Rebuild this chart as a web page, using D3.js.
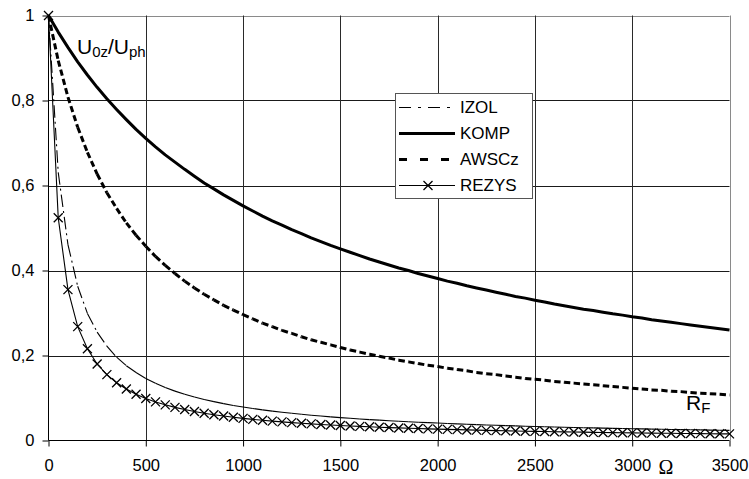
<!DOCTYPE html>
<html><head><meta charset="utf-8">
<script src="https://cdn.jsdelivr.net/npm/d3@7"></script>
<style>
body{margin:0;background:#fff}
svg{display:block;font-family:Arial,"Liberation Sans",sans-serif}
</style>
</head><body>
<svg id="chart" width="749" height="479"></svg>
<script>
// ---- data ----
const resistance = [0,50,100,150,200,250,300,350,400,450,500,550,600,650,700,750,800,850,900,950,
1000,1050,1100,1150,1200,1250,1300,1350,1400,1450,1500,1550,1600,1650,1700,1750,1800,1850,1900,1950,
2000,2050,2100,2150,2200,2250,2300,2350,2400,2450,2500,2550,2600,2650,2700,2750,2800,2850,2900,2950,
3000,3050,3100,3150,3200,3250,3300,3350,3400,3450,3500];

const izol = [1,0.631,0.461,0.363,0.299,0.255,0.222,0.196,0.176,0.160,0.146,0.1345,0.1247,0.1162,0.1088,0.1023,0.0965,0.0914,0.0867,0.0825,
0.0787,0.0753,0.0721,0.0692,0.0665,0.0640,0.0617,0.0595,0.0575,0.0557,0.0539,0.0523,0.0507,0.0492,0.0479,0.0466,0.0453,0.0442,0.0430,0.0420,
0.0410,0.0400,0.0391,0.0382,0.0374,0.0366,0.0358,0.0351,0.0344,0.0337,0.0331,0.0324,0.0318,0.0312,0.0307,0.0301,0.0296,0.0291,0.0286,0.0282,
0.0277,0.0273,0.0268,0.0264,0.0260,0.0256,0.0252,0.0249,0.0245,0.0242,0.0238];

const komp = [1,0.961,0.925,0.891,0.860,0.831,0.804,0.779,0.755,0.732,0.711,0.691,0.672,0.655,0.638,0.622,0.606,0.592,0.578,0.565,
0.552,0.540,0.528,0.517,0.507,0.496,0.487,0.477,0.468,0.459,0.451,0.443,0.435,0.427,0.420,0.413,0.406,0.400,0.393,0.387,
0.381,0.375,0.370,0.364,0.359,0.354,0.349,0.344,0.339,0.335,0.330,0.326,0.321,0.317,0.313,0.309,0.306,0.302,0.298,0.295,
0.291,0.288,0.284,0.281,0.278,0.275,0.272,0.269,0.266,0.263,0.260];

const awscz = [1,0.894,0.808,0.737,0.678,0.627,0.583,0.546,0.512,0.483,0.457,0.433,0.412,0.393,0.375,0.359,0.344,0.331,0.318,0.307,
0.296,0.286,0.276,0.268,0.259,0.252,0.244,0.237,0.231,0.225,0.219,0.213,0.208,0.203,0.198,0.194,0.189,0.185,0.181,0.177,
0.174,0.170,0.167,0.164,0.160,0.157,0.155,0.152,0.149,0.146,0.144,0.142,0.139,0.137,0.135,0.133,0.131,0.129,0.127,0.125,
0.123,0.121,0.119,0.118,0.116,0.115,0.113,0.111,0.110,0.109,0.107];

const rezys = [1,0.524,0.355,0.268,0.216,0.180,0.155,0.136,0.121,0.109,0.099,0.0908,0.0839,0.0779,0.0728,0.0683,0.0643,0.0607,0.0575,0.0547,
0.0521,0.0497,0.0476,0.0456,0.0438,0.0421,0.0406,0.0391,0.0378,0.0365,0.0353,0.0342,0.0332,0.0322,0.0313,0.0304,0.0296,0.0288,0.0281,0.0274,
0.0267,0.0261,0.0255,0.0249,0.0244,0.0238,0.0233,0.0228,0.0224,0.0219,0.0215,0.0211,0.0207,0.0203,0.0199,0.0196,0.0192,0.0189,0.0186,0.0183,
0.0180,0.0177,0.0174,0.0171,0.0169,0.0166,0.0164,0.0161,0.0159,0.0157,0.0155];

const seriesNames = ["IZOL","KOMP","AWSCz","REZYS"];
const xTicks = [0,500,1000,1500,2000,2500,3000,3500];
const xTickLabels = ["0","500","1000","1500","2000","2500","3000","3500"];
const yTicks = [0,0.2,0.4,0.6,0.8,1];
const yTickLabels = ["0","0,2","0,4","0,6","0,8","1"];

// ---- drawing ----
const svg = d3.select("#chart");
const x = d3.scaleLinear().domain([0,3500]).range([48.5,729.5]);
const y = d3.scaleLinear().domain([0,1]).range([440.5,15.5]);
const pts = arr => resistance.map((r,i)=>[r,arr[i]]);

// gridlines
const grid = svg.append("g");
grid.selectAll("line.h").data(yTicks.filter(v=>v>0)).join("line")
  .attr("x1",x(0)).attr("x2",x(3500)).attr("y1",d=>Math.round(y(d))+0.5).attr("y2",d=>Math.round(y(d))+0.5)
  .attr("stroke",d=>d===1?"#8a8a8a":"#1a1a1a").attr("stroke-width",1);
grid.selectAll("line.v").data(xTicks.filter(v=>v>0)).join("line")
  .attr("x1",d=>Math.round(x(d))+0.5).attr("x2",d=>Math.round(x(d))+0.5).attr("y1",y(0)).attr("y2",y(1))
  .attr("stroke",d=>d===3500?"#8a8a8a":"#2a2a2a").attr("stroke-width",1);

// axes
const xAxis = d3.axisBottom(x).tickValues(xTicks).tickSize(6).tickPadding(13)
  .tickFormat((d,i)=>xTickLabels[i]);
const yAxis = d3.axisLeft(y).tickValues(yTicks).tickSize(6).tickPadding(8)
  .tickFormat((d,i)=>yTickLabels[i]);
const gx = svg.append("g").attr("transform",`translate(0,${y(0)})`).call(xAxis);
const gy = svg.append("g").attr("transform",`translate(${x(0)},0)`).call(yAxis);
[gx,gy].forEach(g=>{
  g.select(".domain").attr("stroke","#000").attr("stroke-width",1);
  g.selectAll(".tick line").attr("stroke","#000");
  g.selectAll("text").attr("font-size",16.5).attr("fill","#000")
    .attr("font-family","Arial, 'Liberation Sans', sans-serif");
});
gy.select(".domain").attr("d",`M0,${y(0)}V${y(1)}`);
gx.select(".domain").attr("d",`M${x(0)},0H${x(3500)}`);

const line = d3.line().x(d=>x(d[0])).y(d=>y(d[1]));

// KOMP thick solid
svg.append("path").datum(pts(komp)).attr("d",line)
  .attr("fill","none").attr("stroke","#000").attr("stroke-width",3).attr("stroke-linejoin","round");

// AWSCz thick dashed (pattern restarts per segment)
svg.append("g").selectAll("line").data(d3.pairs(pts(awscz))).join("line")
  .attr("x1",d=>x(d[0][0])).attr("y1",d=>y(d[0][1])).attr("x2",d=>x(d[1][0])).attr("y2",d=>y(d[1][1]))
  .attr("stroke","#000").attr("stroke-width",3).attr("stroke-dasharray","6.2,3.3");

// IZOL thin dash-dot (pattern restarts per segment)
svg.append("g").selectAll("line").data(d3.pairs(pts(izol))).join("line")
  .attr("x1",d=>x(d[0][0])).attr("y1",d=>y(d[0][1])).attr("x2",d=>x(d[1][0])).attr("y2",d=>y(d[1][1]))
  .attr("stroke","#000").attr("stroke-width",1.1).attr("stroke-dasharray","12.5,4,2,4");

// REZYS thin solid with x markers
svg.append("path").datum(pts(rezys)).attr("d",line)
  .attr("fill","none").attr("stroke","#000").attr("stroke-width",1.1);
const xMark = "M-4.5,-4.5L4.5,4.5M-4.5,4.5L4.5,-4.5";
svg.append("g").selectAll("path").data(pts(rezys)).join("path")
  .attr("transform",d=>`translate(${x(d[0])},${y(d[1])})`).attr("d",xMark)
  .attr("stroke","#000").attr("stroke-width",1.3).attr("fill","none");

// legend
const lg = svg.append("g");
lg.append("rect").attr("x",395.5).attr("y",93.5).attr("width",137).attr("height",105)
  .attr("fill","#fff").attr("stroke","#555").attr("stroke-width",1);
const legendStyle = {
  IZOL:{w:1,dash:"12,7,3,7",off:0.5},
  KOMP:{w:3,dash:null,off:0.5},
  AWSCz:{w:3,dash:"8,13",off:0.5},
  REZYS:{w:1,dash:null,off:0.5}
};
seriesNames.forEach((name,i)=>{
  const cy = 107 + i*26;
  const st = legendStyle[name];
  lg.append("line").attr("x1",399).attr("x2",455).attr("y1",cy+st.off).attr("y2",cy+st.off)
    .attr("stroke","#000").attr("stroke-width",st.w).attr("stroke-dasharray",st.dash);
  if(name==="REZYS"){
    lg.append("path").attr("transform",`translate(428,${cy+0.5})`).attr("d",xMark)
      .attr("stroke","#000").attr("stroke-width",1.3);
  }
  lg.append("text").attr("x",460).attr("y",cy+6).attr("font-size",17).text(name);
});

// annotations
const t1 = svg.append("text").attr("x",77).attr("y",54).attr("font-size",21);
t1.append("tspan").text("U");
t1.append("tspan").attr("font-size",15).attr("dy",3).text("0z");
t1.append("tspan").attr("dy",-3).text("/U");
t1.append("tspan").attr("font-size",15).attr("dy",3).text("ph");

const t2 = svg.append("text").attr("x",686).attr("y",410).attr("font-size",21);
t2.append("tspan").text("R");
t2.append("tspan").attr("font-size",15).attr("dy",3).text("F");

svg.append("text").attr("x",666).attr("y",474).attr("text-anchor","middle")
  .attr("font-family","'Liberation Serif','Times New Roman',serif").attr("font-size",20).text("Ω");
</script>
</body></html>
